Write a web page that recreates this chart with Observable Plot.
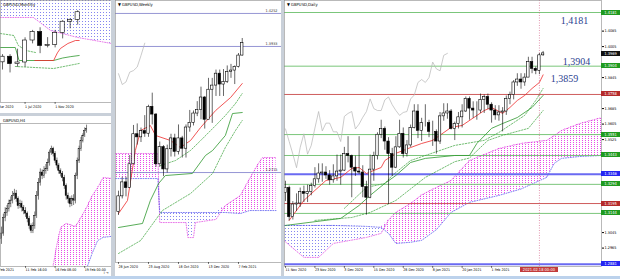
<!DOCTYPE html>
<html><head><meta charset="utf-8">
<script src="https://cdn.jsdelivr.net/npm/d3@7"></script>
<script src="https://cdn.jsdelivr.net/npm/@observablehq/plot@0.6"></script>
<style>
html,body{margin:0;padding:0;background:#fff;}
#wrap{position:relative;width:620px;height:279px;overflow:hidden;background:#c9d0d9;font-family:"DejaVu Sans Condensed","Liberation Sans Narrow","Liberation Sans",sans-serif;}
.panel{position:absolute;background:#fff;overflow:hidden;}
.panel svg{position:absolute;left:0;top:0;}
.hdr{position:absolute;left:3px;top:2px;font-size:4.2px;line-height:5px;color:#000;white-space:nowrap;z-index:2;}
.box{position:absolute;font-size:4px;color:#fff;line-height:5px;height:5px;white-space:nowrap;text-align:center;z-index:3;}
</style></head><body>
<svg width="0" height="0" style="position:absolute"><defs>
<pattern id="pinkDots" width="3" height="2" patternUnits="userSpaceOnUse"><rect x="1" y="0" width="1" height="1" fill="#e84ae8"/></pattern>
<pattern id="blueDots" width="3" height="3" patternUnits="userSpaceOnUse"><rect x="1" y="0" width="1" height="1" fill="#8585f0"/></pattern>
</defs></svg>
<div id="wrap">
 <div class="panel" id="pM" style="left:0;top:0;width:111px;height:113px"><div class="hdr">GBPUSD,Monthly</div></div>
 <div class="panel" id="pH" style="left:0;top:116px;width:111px;height:160px"><div class="hdr">GBPUSD,H4</div></div>
 <div class="panel" id="pW" style="left:115px;top:0;width:166px;height:276px"><div class="hdr">▼ GBPUSD,Weekly</div></div>
 <div class="panel" id="pD" style="left:284px;top:0;width:336px;height:276px"><div class="hdr">▼ GBPUSD,Daily</div></div>
 <div style="position:absolute;left:0;top:276px;width:620px;height:3px;background:#bcd2ec"></div>
</div>
<script>
// ---------------- DAILY (bars 0 = 11 Nov 2020 ... 70 = 19 Feb 2021)
const dOpen = [1.3250,1.3275,1.3125,1.3190,1.3195,1.3255,1.3245,1.3255,1.3285,1.3320,
1.3350,1.3355,1.3340,1.3315,1.3335,1.3360,1.3365,1.3450,1.3440,1.3380,
1.3360,1.3355,1.3280,1.3225,1.3370,1.3440,1.3550,1.3580,1.3515,1.3450,
1.3380,1.3485,1.3555,1.3450,1.3495,1.3585,1.3670,1.3570,1.3610,1.3610,
1.3565,1.3565,1.3515,1.3645,1.3660,1.3670,1.3580,1.3605,1.3640,1.3670,
1.3735,1.3685,1.3675,1.3675,1.3730,1.3745,1.3705,1.3675,1.3650,1.3665,
1.3670,1.3735,1.3755,1.3820,1.3835,1.3820,1.3845,1.3925,1.3890,1.3880,
1.3960];
const dHigh = [1.3310,1.3285,1.3205,1.3245,1.3275,1.3285,1.3290,1.3300,1.3380,1.3400,
1.3400,1.3385,1.3365,1.3395,1.3445,1.3445,1.3485,1.3540,1.3445,1.3440,
1.3540,1.3390,1.3310,1.3445,1.3460,1.3560,1.3625,1.3590,1.3535,1.3480,
1.3540,1.3625,1.3585,1.3520,1.3600,1.3705,1.3705,1.3635,1.3705,1.3625,
1.3620,1.3575,1.3665,1.3710,1.3710,1.3680,1.3615,1.3665,1.3705,1.3745,
1.3745,1.3720,1.3720,1.3760,1.3755,1.3760,1.3715,1.3700,1.3700,1.3690,
1.3750,1.3770,1.3830,1.3865,1.3865,1.3865,1.3950,1.3950,1.3900,1.3970,
1.3980];
const dLow = [1.3205,1.3105,1.3110,1.3155,1.3175,1.3200,1.3200,1.3235,1.3275,1.3300,
1.3305,1.3320,1.3290,1.3300,1.3310,1.3290,1.3360,1.3405,1.3225,1.3335,
1.3345,1.3225,1.3135,1.3220,1.3310,1.3420,1.3530,1.3470,1.3190,1.3335,
1.3375,1.3480,1.3430,1.3435,1.3485,1.3580,1.3530,1.3515,1.3590,1.3535,
1.3490,1.3450,1.3500,1.3620,1.3630,1.3575,1.3520,1.3580,1.3585,1.3665,
1.3625,1.3635,1.3625,1.3660,1.3660,1.3680,1.3610,1.3625,1.3620,1.3565,
1.3650,1.3705,1.3730,1.3800,1.3785,1.3800,1.3845,1.3865,1.3860,1.3860,
1.3955];
const dClose = [1.3275,1.3125,1.3190,1.3195,1.3255,1.3245,1.3255,1.3285,1.3320,1.3350,
1.3355,1.3340,1.3315,1.3335,1.3360,1.3365,1.3450,1.3440,1.3380,1.3360,
1.3355,1.3280,1.3225,1.3370,1.3440,1.3550,1.3580,1.3515,1.3450,1.3380,
1.3485,1.3555,1.3450,1.3495,1.3585,1.3670,1.3570,1.3610,1.3610,1.3565,
1.3565,1.3515,1.3645,1.3660,1.3670,1.3580,1.3605,1.3640,1.3670,1.3735,
1.3685,1.3675,1.3675,1.3730,1.3745,1.3705,1.3675,1.3650,1.3665,1.3670,
1.3735,1.3755,1.3820,1.3835,1.3820,1.3845,1.3925,1.3890,1.3880,1.3960,
1.3970];
const dTickBars = [0,8,16,24,32,40,48,56];
const dTickLabels = ["11 Nov 2020","23 Nov 2020","3 Dec 2020","15 Dec 2020","28 Dec 2020","8 Jan 2021","20 Jan 2021","1 Feb 2021"];
const dCurrentBar = 69;
const dCurrentLabel = "2021.02.18 00:00";
const dPriceTicks = [1.4085,1.4005,1.3925,1.3845,1.3765,1.3685,1.3605,1.3525,1.3445,1.3365,1.3285,1.3205,1.3125,1.3045,1.2965];
const dLevels = [1.4181,1.3969,1.3904,1.3758,1.3551,1.3443,1.3346,1.3294,1.3195,1.3144,1.2881];
const dLevelKinds = ["g","k","g","r","g","g","b","g","r","g","b"];
const dTenkan = [[1,1.3108],[5,1.3211],[8,1.3263],[11,1.3314],[15,1.3330],[18,1.3376],[20,1.3381],[22,1.3350],[24,1.3366],[26,1.3381],[27,1.3417],[30,1.3454],[34,1.3484],[37,1.3505],[40,1.3521],[45,1.3588],[48,1.3598],[54,1.3675],[56,1.3691],[59,1.3660],[61,1.3691],[63,1.3727],[65,1.3753],[67,1.3789],[69,1.3820],[70,1.3859]];
const dKijun = [[0,1.3082],[15,1.3118],[20,1.3185],[23,1.3237],[27,1.3299],[30,1.3340],[34,1.3407],[38,1.3428],[46,1.3443],[50,1.3443],[52,1.3505],[56,1.3583],[59,1.3608],[63,1.3639],[67,1.3691],[70,1.3753]];
const dDash1 = [[16,1.3170],[22,1.3278],[27,1.3299],[29,1.3340],[34,1.3417],[46,1.3495],[54,1.3521],[58,1.3562],[65,1.3650],[68,1.3727],[70,1.3789]];
const dDash2 = [[8,1.3108],[18,1.3123],[23,1.3149],[30,1.3211],[38,1.3330],[46,1.3411],[50,1.3430],[55,1.3521],[59,1.3547],[66,1.3583],[70,1.3675]];
const dCloud = [[-0.5,1.3005,1.3082],[5,1.2917,1.3082],[9,1.2917,1.3082],[13,1.2989,1.3082],[22,1.3020,1.3077],[26,1.3041,1.3072],[28,1.3110,1.3041],[30,1.3150,1.2989],[34,1.3195,1.2995],[37,1.3240,1.3005],[41,1.3278,1.3060],[45,1.3314,1.3149],[50,1.3417,1.3201],[58,1.3479,1.3237],[64,1.3505,1.3270],[71,1.3521,1.3330],[73,1.3545,1.3402],[75,1.3572,1.3428],[80,1.3608,1.3438],[86,1.3639,1.3443]];
const dNoteText = ["1,4181","1,3904","1,3859"];
const dNoteBar = [78.5,79.1,75.8];
const dNotePrice = [1.4140,1.3928,1.3841];

// ---------------- WEEKLY (w0 = 28 Jun 2020 ... w33 = 14 Feb 2021)
const wOpen = [1.2335,1.2485,1.2620,1.2565,1.2795,1.3085,1.3055,1.3115,1.3090,1.3350,1.3275,1.2795,1.2960,1.2745,1.2940,1.3045,1.2915,1.3045,1.2945,1.3150,1.3195,1.3285,1.3320,1.3440,1.3225,1.3515,1.3555,1.3670,1.3565,1.3590,1.3685,1.3700,1.3735,1.3845];
const wHigh = [1.2535,1.2670,1.2670,1.2880,1.3170,1.3185,1.3145,1.3265,1.3365,1.3482,1.3285,1.3010,1.2975,1.2980,1.3085,1.3085,1.3175,1.3065,1.3175,1.3315,1.3310,1.3400,1.3540,1.3450,1.3625,1.3625,1.3705,1.3705,1.3710,1.3745,1.3760,1.3745,1.3865,1.4010];
const wLow = [1.2300,1.2460,1.2480,1.2560,1.2790,1.2980,1.3005,1.3055,1.3055,1.3175,1.2765,1.2765,1.2675,1.2710,1.2865,1.2865,1.2885,1.2855,1.2855,1.3105,1.3165,1.3255,1.3225,1.3135,1.3225,1.3190,1.3450,1.3450,1.3450,1.3575,1.3625,1.3565,1.3725,1.3840];
const wClose = [1.2485,1.2620,1.2565,1.2795,1.3085,1.3055,1.3115,1.3090,1.3350,1.3275,1.2795,1.2960,1.2745,1.2940,1.3045,1.2915,1.3045,1.2945,1.3150,1.3195,1.3285,1.3320,1.3440,1.3225,1.3515,1.3555,1.3670,1.3565,1.3590,1.3685,1.3700,1.3735,1.3845,1.3965];
const wTickWeeks = [0,8,16,24,32];
const wTickLabels = ["28 Jun 2020","23 Aug 2020","18 Oct 2020","13 Dec 2020","7 Feb 2021"];
const wLevels = [1.4252,1.3933,1.2715];
const wTenkan = [[0,1.2319],[2.4,1.2445],[4.5,1.2928],[5.9,1.3121],[8.5,1.3169],[9.9,1.3073],[13.9,1.3024],[16.5,1.2957],[19.2,1.3024],[21.9,1.3150],[25.9,1.3314],[29.9,1.3440],[33,1.3575]];
const wKijun = [[0,1.2184],[6.4,1.2223],[8.5,1.2445],[10.7,1.2609],[12.5,1.2686],[19.7,1.2706],[23.2,1.2880],[25.1,1.2928],[28.5,1.3073],[30.4,1.3285],[33,1.3295]];
const wDash1 = [[11.2,1.2783],[15.2,1.2831],[19.2,1.2928],[21.9,1.3024],[25.9,1.3169],[28.5,1.3266],[31.2,1.3382],[33,1.3479]];
const wDash2 = [[0,1.1933],[5.9,1.2058],[11.7,1.2348],[19.2,1.2512],[25.1,1.2706],[28.5,1.2957],[31.2,1.3121],[33,1.3218]];
const wCloud = [[-0.8,1.2899,1.2657],[10.5,1.2899,1.2657],[11,1.2232,1.2329],[18,1.2232,1.2329],[18.5,1.2087,1.2329],[20,1.2087,1.2329],[20.5,1.2232,1.2329],[26,1.2262,1.2329],[28.5,1.2397,1.2329],[32.5,1.2493,1.2319],[35,1.2657,1.2348],[37.3,1.2802,1.2348],[38.4,1.2860,1.2348],[42,1.2860,1.2348]];

// ---------------- MONTHLY (m0 = Apr 2020 ... m10 = Feb 2021)
const mOpen = [1.2405,1.2580,1.2350,1.2400,1.3085,1.3350,1.2915,1.2945,1.3320,1.3670,1.3730];
const mHigh = [1.2645,1.2645,1.2815,1.3170,1.3400,1.3482,1.3175,1.3400,1.3705,1.3760,1.4010];
const mLow = [1.2165,1.2075,1.2250,1.2250,1.2980,1.2675,1.2855,1.2855,1.3135,1.3450,1.3565];
const mClose = [1.2580,1.2350,1.2400,1.3085,1.3350,1.2915,1.2945,1.3320,1.3670,1.3730,1.3965];
const mTickMonths = [-1,3,7];
const mTickLabels = ["1 Mar 2020","1 Jul 2020","1 Nov 2020"];
const mTenkan = [[4.3,1.2462],[6.8,1.2462],[7.3,1.2700],[7.7,1.2836],[8.7,1.2992],[9.7,1.3085],[10.2,1.3085]];
const mKijun = [[-0.3,1.2867],[1.7,1.2867],[2.2,1.2462],[6.8,1.2462],[8,1.2540],[9,1.2580],[10.2,1.2618]];
const mDash1 = [[-0.3,1.3303],[1.5,1.3241],[2.1,1.2930],[3.1,1.2774],[4.4,1.2711]];
const mDash2 = [[1.7,1.2276],[6.8,1.2213],[10.2,1.2369]];
const mCloud = [[-0.3,1.3802,1.4400],[4.1,1.3802,1.4400],[6.4,1.3397,1.4400],[10,1.3179,1.4400],[14.5,1.2992,1.4400]];

// ---------------- H4 (b0 = 9 Feb 12:00 ... b46 = 19 Feb 08:00)
const hOpen = [1.3790,1.3800,1.3829,1.3838,1.3846,1.3855,1.3861,1.3870,1.3874,1.3864,1.3851,1.3855,1.3848,1.3842,1.3837,1.3827,1.3814,1.3805,1.3814,1.3833,1.3870,1.3894,1.3913,1.3907,1.3916,1.3920,1.3931,1.3950,1.3957,1.3948,1.3935,1.3926,1.3916,1.3911,1.3903,1.3888,1.3870,1.3864,1.3855,1.3864,1.3861,1.3907,1.3935,1.3957,1.3972,1.3981,1.3990];
const hHigh = [1.3812,1.3836,1.3848,1.3852,1.3862,1.3868,1.3878,1.3882,1.3880,1.3868,1.3862,1.3860,1.3852,1.3848,1.3840,1.3832,1.3818,1.3820,1.3840,1.3878,1.3902,1.3920,1.3918,1.3924,1.3928,1.3938,1.3955,1.3962,1.3960,1.3952,1.3940,1.3930,1.3920,1.3915,1.3908,1.3892,1.3875,1.3868,1.3870,1.3872,1.3912,1.3940,1.3962,1.3978,1.3985,1.3996,1.4001];
const hLow = [1.3780,1.3795,1.3822,1.3832,1.3840,1.3848,1.3855,1.3862,1.3858,1.3845,1.3846,1.3840,1.3835,1.3830,1.3820,1.3808,1.3800,1.3800,1.3808,1.3828,1.3862,1.3888,1.3900,1.3902,1.3910,1.3915,1.3925,1.3945,1.3942,1.3930,1.3920,1.3910,1.3905,1.3896,1.3882,1.3862,1.3856,1.3848,1.3850,1.3852,1.3855,1.3900,1.3930,1.3952,1.3968,1.3978,1.3986];
const hClose = [1.3800,1.3829,1.3838,1.3846,1.3855,1.3861,1.3870,1.3874,1.3864,1.3851,1.3855,1.3848,1.3842,1.3837,1.3827,1.3814,1.3805,1.3814,1.3833,1.3870,1.3894,1.3913,1.3907,1.3916,1.3920,1.3931,1.3950,1.3957,1.3948,1.3935,1.3926,1.3916,1.3911,1.3903,1.3888,1.3870,1.3864,1.3855,1.3864,1.3861,1.3907,1.3935,1.3957,1.3972,1.3981,1.3990,1.3994];
const hTickBars = [-3,13,29,45];
const hTickLabels = ["9 Feb 2021","11 Feb 16:00","16 Feb 08:00","19 Feb 00:00"];
const hCloud = [[27,1.3725,1.3700],[28,1.3741,1.3700],[30,1.3780,1.3700],[32,1.3811,1.3700],[35,1.3819,1.3700],[40,1.3813,1.3705],[43,1.3830,1.3715],[46,1.3848,1.3735],[49,1.3870,1.3763],[52,1.3885,1.3787],[55,1.3904,1.3793],[60,1.3902,1.3795]];

// ---------------- helpers
const FONT = "DejaVu Sans Condensed, Liberation Sans Narrow, Liberation Sans, sans-serif";
const rows = (o,h,l,c) => o.map((v,i)=>({i, o:v, h:h[i], l:l[i], c:c[i]}));
const pts = arr => arr.map(([x,y])=>({x,y}));
const cl = arr => arr.map(([i,a,b])=>({i,a,b}));
function candles(data, hw, sw){
  return [
    Plot.ruleX(data,{x:"i", y1:"l", y2:"h", stroke:"#000", strokeWidth:sw, clip:true}),
    Plot.rect(data,{filter:d=>d.c>=d.o, x1:d=>d.i-hw, x2:d=>d.i+hw, y1:"o", y2:"c", fill:"#fff", stroke:"#000", strokeWidth:sw, clip:true}),
    Plot.rect(data,{filter:d=>d.c<d.o, x1:d=>d.i-hw, x2:d=>d.i+hw, y1:"c", y2:"o", fill:"#000", stroke:"#000", strokeWidth:sw, clip:true})
  ];
}
function cloud(data){
  return [
    Plot.areaY(data,{x:"i", y1:"b", y2:d=>Math.max(d.a,d.b), fill:"url(#pinkDots)", clip:true}),
    Plot.areaY(data,{x:"i", y1:"a", y2:d=>Math.max(d.a,d.b), fill:"url(#blueDots)", clip:true}),
    Plot.line(data,{x:"i", y:"a", stroke:"#e040e0", strokeWidth:0.7, strokeDasharray:"1,1.5", clip:true}),
    Plot.line(data,{x:"i", y:"b", stroke:"#4b4bee", strokeWidth:0.7, strokeDasharray:"1,1.5", clip:true})
  ];
}
const ln = (arr, stroke, sw, dash) => Plot.line(pts(arr),{x:"x", y:"y", stroke, strokeWidth:sw, strokeDasharray:dash, clip:true});
const xAxis = (ticks, labels, size, pad) => Plot.axisX({anchor:"bottom", ticks, tickFormat:d=>labels[ticks.indexOf(d)], textAnchor:"start", tickSize:size, tickPadding:pad, fontSize:3.6});
const style = {fontFamily:FONT, fontSize:"3.8px", background:"transparent", color:"#000", overflow:"hidden"};

// ---------------- DAILY PLOT
const levelColor = {g:"#6cbf6c", r:"#c84a4a", b:"#6a6af2", k:"#000"};
const boxColor = {g:"#1f9a1f", r:"#b52a2a", b:"#2525f2", k:"#111"};
const dLines = dLevels.map((v,k)=>({v, k:dLevelKinds[k]})).filter(d=>d.k!=="k");
const dShownTicks = dPriceTicks.filter(t => dLevels.every(v => Math.abs(v - t) > 0.0023));
const chikouD = dClose.slice(26).map((c,k)=>({x:k, y:c}));
const dPlot = Plot.plot({
  width:336, height:276, marginTop:0, marginLeft:0, marginRight:19, marginBottom:10, style,
  x:{domain:[-0.27,85.87], axis:null}, y:{domain:[1.2870,1.4243], axis:null},
  marks:[
    ...cloud(cl(dCloud)),
    Plot.ruleY(dLines.filter(d=>d.k!=="b"),{y:"v", stroke:d=>levelColor[d.k], strokeWidth:0.9}),
    Plot.ruleY(dLines.filter(d=>d.k==="b"),{y:"v", stroke:levelColor.b, strokeWidth:2}),
    Plot.line(chikouD,{x:"x", y:"y", stroke:"#b4b4b4", strokeWidth:0.7}),
    ln(dDash2,"#3aa23a",0.7,"1.5,1.5"),
    ln(dDash1,"#3aa23a",0.7,"1.5,1.5"),
    ln(dKijun,"#2f982f",0.8),
    ln(dTenkan,"#ee2b2b",0.8),
    Plot.ruleX([dCurrentBar],{stroke:"#d0507a", strokeWidth:0.6, strokeDasharray:"1,1.5"}),
    ...candles(rows(dOpen,dHigh,dLow,dClose),0.33,0.6),
    Plot.text(dNoteText,{x:(d,i)=>dNoteBar[i], y:(d,i)=>dNotePrice[i], text:d=>d, fill:"#2b3f90", fontSize:10, fontFamily:"Liberation Serif, serif"}),
    Plot.axisY({anchor:"right", ticks:dShownTicks, tickFormat:d3.format(".4f"), tickSize:2, tickPadding:1, fontSize:3.8}),
    xAxis(dTickBars, dTickLabels, 1.5, 0.5),
    Plot.frame({stroke:"#8a8a8a", strokeWidth:0.6})
  ]
});
const pD = document.getElementById("pD");
pD.appendChild(dPlot);
{
  const ys = dPlot.scale("y"), xs = dPlot.scale("x");
  dLevels.forEach((v,k)=>{
    const b = document.createElement("div"); b.className="box";
    b.style.left="317px"; b.style.width="19px"; b.style.top=(ys.apply(v)-2.5)+"px";
    b.style.background=boxColor[dLevelKinds[k]]; b.textContent=d3.format(".4f")(v);
    pD.appendChild(b);
  });
  const t = document.createElement("div"); t.className="box";
  t.style.left=(xs.apply(dCurrentBar)-19)+"px"; t.style.width="38px"; t.style.top="267px";
  t.style.background="#c23b3b"; t.textContent=dCurrentLabel; pD.appendChild(t);
}

// ---------------- WEEKLY PLOT
const chikouW = wClose.slice(26).map((c,k)=>({x:k, y:c}));
const wPlot = Plot.plot({
  width:166, height:276, marginTop:0, marginLeft:0, marginRight:0, marginBottom:14, style,
  x:{domain:[-0.8,43.47], axis:null}, y:{domain:[1.1846,1.4377], axis:null},
  marks:[
    ...cloud(cl(wCloud)),
    Plot.ruleY(wLevels,{stroke:"#7b7bc9", strokeWidth:0.8}),
    Plot.text(wLevels,{y:d=>d, text:d=>d3.format(".4f")(d), frameAnchor:"right", textAnchor:"end", dx:-4, dy:-2.5, fontSize:3.8, fill:"#333"}),
    Plot.line(chikouW,{x:"x", y:"y", stroke:"#b4b4b4", strokeWidth:0.7, clip:true}),
    ln(wDash2,"#3aa23a",0.7,"1.5,1.5"),
    ln(wDash1,"#3aa23a",0.7,"1.5,1.5"),
    ln(wKijun,"#2f982f",0.8),
    ln(wTenkan,"#ee2b2b",0.8),
    ...candles(rows(wOpen,wHigh,wLow,wClose),0.33,0.6),
    xAxis(wTickWeeks, wTickLabels, 1.5, 1.5),
    Plot.frame({stroke:"#8a8a8a", strokeWidth:0.6})
  ]
});
document.getElementById("pW").appendChild(wPlot);

// ---------------- MONTHLY PLOT
const mPlot = Plot.plot({
  width:111, height:113, marginTop:0, marginLeft:0, marginRight:0, marginBottom:11, style,
  x:{domain:[-0.27,14.5], axis:null}, y:{domain:[1.1154,1.4331], axis:null},
  marks:[
    ...cloud(cl(mCloud)),
    ln(mDash1,"#3aa23a",0.7,"1.5,1.5"),
    ln(mDash2,"#3aa23a",0.7,"1.5,1.5"),
    ln(mKijun,"#2f982f",0.8),
    ln(mTenkan,"#ee2b2b",0.8),
    ...candles(rows(mOpen,mHigh,mLow,mClose),0.28,0.6),
    xAxis(mTickMonths, mTickLabels, 1.5, 1),
    Plot.frame({stroke:"#8a8a8a", strokeWidth:0.6})
  ]
});
document.getElementById("pM").appendChild(mPlot);

// ---------------- H4 PLOT
const hPlot = Plot.plot({
  width:111, height:160, marginTop:7, marginLeft:0, marginRight:0, marginBottom:10, style,
  x:{domain:[-0.54,59.5], axis:null}, y:{domain:[1.3739,1.4004], axis:null},
  marks:[
    ...cloud(cl(hCloud)),
    ...candles(rows(hOpen,hHigh,hLow,hClose),0.3,0.5),
    xAxis(hTickBars, hTickLabels, 1.5, 0.5),
    Plot.frame({stroke:"#8a8a8a", strokeWidth:0.6})
  ]
});
document.getElementById("pH").appendChild(hPlot);
</script>
</body></html>
